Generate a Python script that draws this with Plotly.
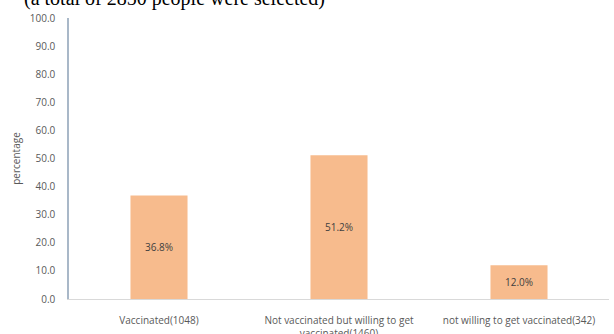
import plotly.graph_objects as go

categories = ["Vaccinated(1048)", "Not vaccinated but willing to get<br>vaccinated(1460)", "not willing to get vaccinated(342)"]
percentages = [36.8, 51.2, 12.0]
y_ticks = [0, 10, 20, 30, 40, 50, 60, 70, 80, 90, 100]
y_tick_labels = [f"{v:.1f}" for v in y_ticks]
title_text = "(a total of 2850 people were selected)"

fig = go.Figure(go.Bar(
    x=categories, y=percentages,
    text=[f"{v:.1f}%" for v in percentages],
    textposition="inside", insidetextanchor="middle",
    textfont=dict(color="#404040", size=10, family="Open Sans"),
    marker=dict(color="#F7BB8D", line=dict(width=0)),
    width=0.317,
))

fig.update_layout(
    width=614, height=334,
    margin=dict(l=69, r=5, t=18, b=35, autoexpand=False),
    paper_bgcolor="white", plot_bgcolor="white",
    font=dict(family="Open Sans", size=10, color="#595959"),
    showlegend=False,
    xaxis=dict(showline=True, linecolor="#D9D9D9", linewidth=1, ticks="",
               tickfont=dict(size=10, color="#595959"), ticklabelstandoff=12,
               range=[-0.5, 2.5], automargin=False),
    yaxis=dict(range=[0, 100], tickvals=y_ticks, ticktext=y_tick_labels, automargin=False,
               showgrid=False, zeroline=False, showline=True, linecolor="#A9B8C8", linewidth=1.5,
               tickfont=dict(size=10, color="#595959"), ticklabelstandoff=10,
               title=dict(text="percentage", font=dict(size=10, color="#595959"), standoff=7)),
    annotations=[dict(text=title_text, xref="paper", yref="paper", x=-0.087, y=1.0,
                      xanchor="left", yanchor="bottom", yshift=6, showarrow=False,
                      font=dict(family="Liberation Serif", size=20, color="black"))],
)

fig.write_html("out.html", config={"displayModeBar": False},
               post_script="document.body.style.margin='0';")
